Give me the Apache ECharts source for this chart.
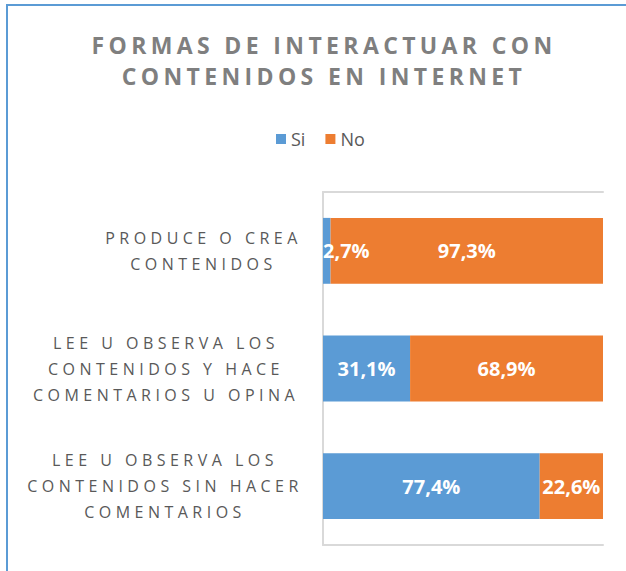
<!DOCTYPE html>
<html>
<head>
<meta charset="utf-8">
<script src="https://cdn.jsdelivr.net/npm/echarts@6/dist/echarts.min.js"></script>
<style>
  html, body { margin: 0; padding: 0; overflow: hidden; background: #fff; }
  #frame { position: absolute; left: 6px; top: 4px; width: 800px; height: 800px; border: 2px solid #5b9bd5; }
  #chart { position: absolute; left: 0; top: 0; width: 626px; height: 571px; }
  /* Excel-style letter spacing for the title and the category labels */
  #chart text[style*="23px"] { letter-spacing: 0.19em; }
  #chart text[style*="16px"] { letter-spacing: 0.28em; }
</style>
</head>
<body>
<div id="frame"></div>
<div id="chart"></div>
<script>
const titleText = 'FORMAS DE INTERACTUAR CON\nCONTENIDOS EN INTERNET';
const categories = [
  'PRODUCE O CREA\nCONTENIDOS',
  'LEE U OBSERVA LOS\nCONTENIDOS Y HACE\nCOMENTARIOS U OPINA',
  'LEE U OBSERVA LOS\nCONTENIDOS SIN HACER\nCOMENTARIOS'
];
const siValues = [2.7, 31.1, 77.4];
const noValues = [97.3, 68.9, 22.6];

const chart = echarts.init(document.getElementById('chart'), null, { renderer: 'svg' });

const labelFont = { fontFamily: 'Open Sans', fontSize: 16, color: '#595959', lineHeight: 26, align: 'center' };
const pct = (p) => p.value.toFixed(1).replace('.', ',') + '%';

// narrow segments keep their label inside the plot, starting at its left edge
const siData = siValues.map(v => v < 10 ? { value: v, label: { position: 'insideLeft', distance: 0 } } : v);

const option = {
  backgroundColor: 'transparent',
  animation: false,
  title: {
    text: titleText,
    left: 319,
    top: 24,
    textAlign: 'center',
    textStyle: {
      fontFamily: 'Open Sans',
      fontSize: 23,
      fontWeight: 'bold',
      color: '#7f7f7f',
      lineHeight: 31
    }
  },
  legend: {
    left: 276,
    top: 130,
    padding: 0,
    itemWidth: 10,
    itemHeight: 10,
    itemGap: 20,
    icon: 'rect',
    textStyle: { fontFamily: 'Open Sans', fontSize: 18, color: '#595959' },
    data: ['Si', 'No']
  },
  grid: { left: 323, right: 23, top: 192, bottom: 26, containLabel: false },
  xAxis: [
    {
      type: 'value', min: 0, max: 100, position: 'bottom',
      axisLine: { show: true, lineStyle: { color: '#d9d9d9', width: 2 } },
      axisTick: { show: false }, axisLabel: { show: false }, splitLine: { show: false }
    },
    {
      type: 'value', min: 0, max: 100, position: 'top',
      axisLine: { show: true, lineStyle: { color: '#d9d9d9', width: 2 } },
      axisTick: { show: false }, axisLabel: { show: false }, splitLine: { show: false }
    }
  ],
  yAxis: {
    type: 'category',
    inverse: true,
    data: categories,
    axisLine: { show: true, lineStyle: { color: '#d9d9d9', width: 2 } },
    axisTick: { show: false },
    axisLabel: {
      margin: 21,
      align: 'right',
      formatter: (value, idx) => value.split('\n').map(l => '{k' + idx + '|' + l + '}').join('\n'),
      rich: {
        k0: Object.assign({ width: 197 }, labelFont),
        k1: Object.assign({ width: 272 }, labelFont),
        k2: Object.assign({ width: 274 }, labelFont)
      }
    }
  },
  series: [
    {
      name: 'Si',
      type: 'bar',
      stack: 'total',
      barCategoryGap: '44%',
      data: siData,
      itemStyle: { color: '#5b9bd5' },
      label: { show: true, position: 'inside', formatter: pct, color: '#fff', fontFamily: 'Open Sans', fontSize: 20, fontWeight: 'bold' }
    },
    {
      name: 'No',
      type: 'bar',
      stack: 'total',
      barCategoryGap: '44%',
      data: noValues,
      itemStyle: { color: '#ed7d31' },
      label: { show: true, position: 'inside', formatter: pct, color: '#fff', fontFamily: 'Open Sans', fontSize: 20, fontWeight: 'bold' }
    }
  ]
};

chart.setOption(option);
</script>
</body>
</html>
